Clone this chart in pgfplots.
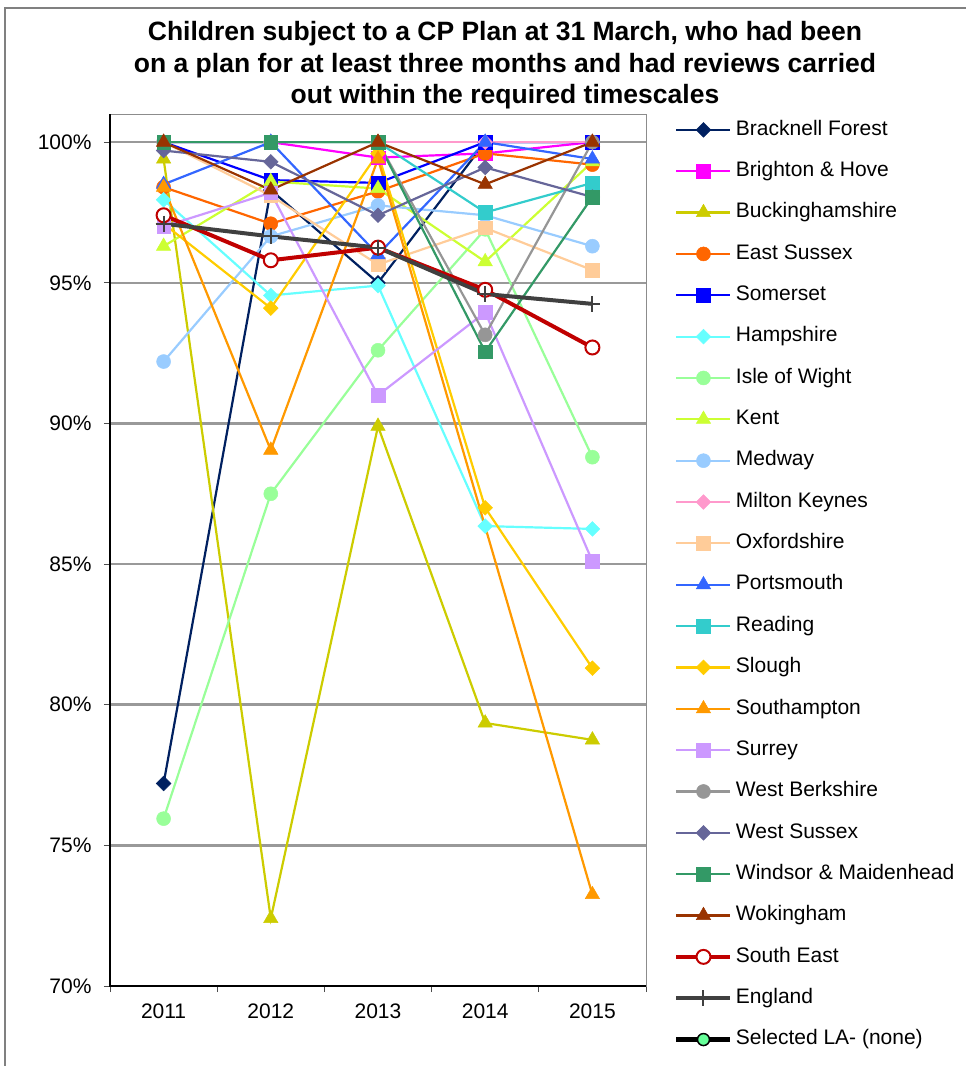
\documentclass[border=0pt]{standalone}
\usepackage{fontspec}
\setmainfont{Liberation Sans}
\usepackage{pgfplots}
\pgfplotsset{compat=1.18}
\definecolor{cBra}{RGB}{0,32,96}
\definecolor{cBri}{RGB}{255,0,255}
\definecolor{cBuc}{RGB}{204,204,0}
\definecolor{cEas}{RGB}{255,102,0}
\definecolor{cSom}{RGB}{0,0,255}
\definecolor{cHam}{RGB}{102,255,255}
\definecolor{cIoW}{RGB}{153,255,153}
\definecolor{cKen}{RGB}{204,255,51}
\definecolor{cMed}{RGB}{153,204,255}
\definecolor{cMil}{RGB}{255,153,204}
\definecolor{cOxf}{RGB}{255,204,153}
\definecolor{cPor}{RGB}{51,102,255}
\definecolor{cRea}{RGB}{51,204,204}
\definecolor{cSlo}{RGB}{255,204,0}
\definecolor{cSou}{RGB}{255,153,0}
\definecolor{cSur}{RGB}{204,153,255}
\definecolor{cWBe}{RGB}{150,150,150}
\definecolor{cWSu}{RGB}{102,102,153}
\definecolor{cWin}{RGB}{51,153,102}
\definecolor{cWok}{RGB}{153,51,0}
\definecolor{cSE}{RGB}{192,0,0}
\definecolor{cEng}{RGB}{64,64,64}
\definecolor{cSel}{RGB}{102,255,153}
\pgfplotstableread{
x Bra Bri Buc Eas Som Ham IoW Ken Med Mil Oxf Por Rea Slo Sou Sur WBe WSu Win Wok SE Eng
0 77.2 100 99.4 98.4 100 97.95 75.95 96.3 92.2 100 100 98.5 100 97.1 98.4 97.0 100 99.7 100 100 97.4 97.1
1 98.3 100 72.4 97.1 98.65 94.55 87.5 98.6 96.65 100 98.1 100 100 94.1 89.05 98.2 100 99.3 100 98.3 95.8 96.65
2 95.0 99.45 89.9 98.25 98.55 94.9 92.6 98.35 97.75 100 95.65 96.0 100 99.6 99.4 91.0 100 97.4 100 100 96.25 96.25
3 100 99.6 79.35 99.6 100 86.35 96.9 95.75 97.4 100 96.95 100 97.5 87.0 nan 93.95 93.15 99.1 92.55 98.5 94.75 94.6
4 100 100 78.75 99.2 100 86.25 88.8 99.3 96.3 100 95.45 99.4 98.55 81.3 73.25 85.1 100 98.05 98.05 100 92.7 94.25
}\data
\pgfplotsset{
  dia/.style={color=#1, line width=2.2pt, mark=square*, mark options={solid, rotate=45, fill=#1, draw=#1, line width=0.5pt, mark size=5.2pt}},
  sqr/.style={color=#1, line width=2.2pt, mark=square*, mark options={solid, fill=#1, draw=#1, line width=0.5pt, mark size=6.8pt}},
  tri/.style={color=#1, line width=2.2pt, mark=triangle*, mark options={solid, fill=#1, draw=#1, line width=0.5pt, mark size=8.3pt}},
  cir/.style={color=#1, line width=2.2pt, mark=*, mark options={solid, fill=#1, draw=#1, line width=0.5pt, mark size=7pt}},
}
\begin{document}
\begin{tikzpicture}
\path[use as bounding box] (0pt,0pt) rectangle (966pt,-1066pt);
\draw[black!50, line width=1.5pt] (5pt,-1075pt) -- (5pt,-8pt) -- (975pt,-8pt);
\node[align=center, inner sep=0pt, anchor=north, font=\bfseries\fontsize{26.5}{31.7}\selectfont] at (505pt,-21pt)
 {Children subject to a CP Plan at 31 March, who had been\\on a plan for at least three months and had reviews carried\\out within the required timescales};
\begin{axis}[
  at={(110pt,-986pt)}, anchor=south west,
  scale only axis, width=536pt, height=872pt,
  xmin=-0.5, xmax=4.5, ymin=70, ymax=101,
  xtick={0,1,2,3,4}, xticklabels={2011,2012,2013,2014,2015},
  major x tick style={draw=none},
  minor xtick={-0.5,0.5,1.5,2.5,3.5,4.5},
  ytick={70,75,80,85,90,95,100},
  yticklabel={\pgfmathprintnumber{\tick}\%},
  /pgf/number format/assume math mode=true,
  tick align=outside, tick pos=left,
  major tick length=6pt, minor tick length=6pt,
  tick style={black!70, line width=1pt},
  ymajorgrids, grid style={line width=2.5pt, color=black!40},
  axis line style={draw=black!45, line width=1pt},
  ticklabel style={font=\fontsize{21}{25}\selectfont},
  yticklabel style={xshift=-9pt},
  xticklabel style={yshift=-8pt},
  clip=false,
  unbounded coords=discard,
  legend cell align=left,
  legend image code/.code={\draw[mark repeat=2, mark phase=2, #1] plot coordinates {(0pt,0pt) (27pt,0pt) (54pt,0pt)};},
  legend style={at={(axis description cs:1.0522,0.993)}, anchor=north west, draw=none, fill=none,
    inner sep=0pt, outer sep=0pt, row sep=21.85pt, font=\fontsize{21}{25}\selectfont,
    nodes={inner sep=0pt, text height=15pt, text depth=4.5pt},
    /tikz/every odd column/.append style={column sep=3pt}},
]
\addplot[dia=cBra] table[x=x, y=Bra] {\data}; \addlegendentry{Bracknell Forest}
\addplot[sqr=cBri] table[x=x, y=Bri] {\data}; \addlegendentry{Brighton \& Hove}
\addplot[tri=cBuc] table[x=x, y=Buc] {\data}; \addlegendentry{Buckinghamshire}
\addplot[cir=cEas] table[x=x, y=Eas] {\data}; \addlegendentry{East Sussex}
\addplot[sqr=cSom] table[x=x, y=Som] {\data}; \addlegendentry{Somerset}
\addplot[dia=cHam] table[x=x, y=Ham] {\data}; \addlegendentry{Hampshire}
\addplot[cir=cIoW] table[x=x, y=IoW] {\data}; \addlegendentry{Isle of Wight}
\addplot[tri=cKen] table[x=x, y=Ken] {\data}; \addlegendentry{Kent}
\addplot[cir=cMed] table[x=x, y=Med] {\data}; \addlegendentry{Medway}
\addplot[dia=cMil] table[x=x, y=Mil] {\data}; \addlegendentry{Milton Keynes}
\addplot[sqr=cOxf] table[x=x, y=Oxf] {\data}; \addlegendentry{Oxfordshire}
\addplot[tri=cPor] table[x=x, y=Por] {\data}; \addlegendentry{Portsmouth}
\addplot[sqr=cRea] table[x=x, y=Rea] {\data}; \addlegendentry{Reading}
\addplot[dia=cSlo] table[x=x, y=Slo] {\data}; \addlegendentry{Slough}
\addplot[tri=cSou] table[x=x, y=Sou] {\data}; \addlegendentry{Southampton}
\addplot[sqr=cSur] table[x=x, y=Sur] {\data}; \addlegendentry{Surrey}
\addplot[cir=cWBe] table[x=x, y=WBe] {\data}; \addlegendentry{West Berkshire}
\addplot[dia=cWSu] table[x=x, y=WSu] {\data}; \addlegendentry{West Sussex}
\addplot[sqr=cWin] table[x=x, y=Win] {\data}; \addlegendentry{Windsor \& Maidenhead}
\addplot[tri=cWok] table[x=x, y=Wok] {\data}; \addlegendentry{Wokingham}
\addplot[color=cSE, line width=4pt, mark=*, mark options={solid, fill=white, draw=cSE, line width=2pt, mark size=7pt}] table[x=x, y=SE] {\data}; \addlegendentry{South East}
\addplot[color=cEng, line width=4pt, mark=+, mark options={solid, draw=cEng, line width=2pt, mark size=8pt}] table[x=x, y=Eng] {\data}; \addlegendentry{England}
\addlegendimage{black, line width=5pt, mark=*, mark options={solid, fill=cSel, draw=black, line width=1.5pt, mark size=6pt}}
\addlegendentry{Selected LA- (none)}
\draw[black, line width=1.5pt] (rel axis cs:0,1) -- (rel axis cs:0,0) -- (rel axis cs:1,0);
\end{axis}
\end{tikzpicture}
\end{document}
